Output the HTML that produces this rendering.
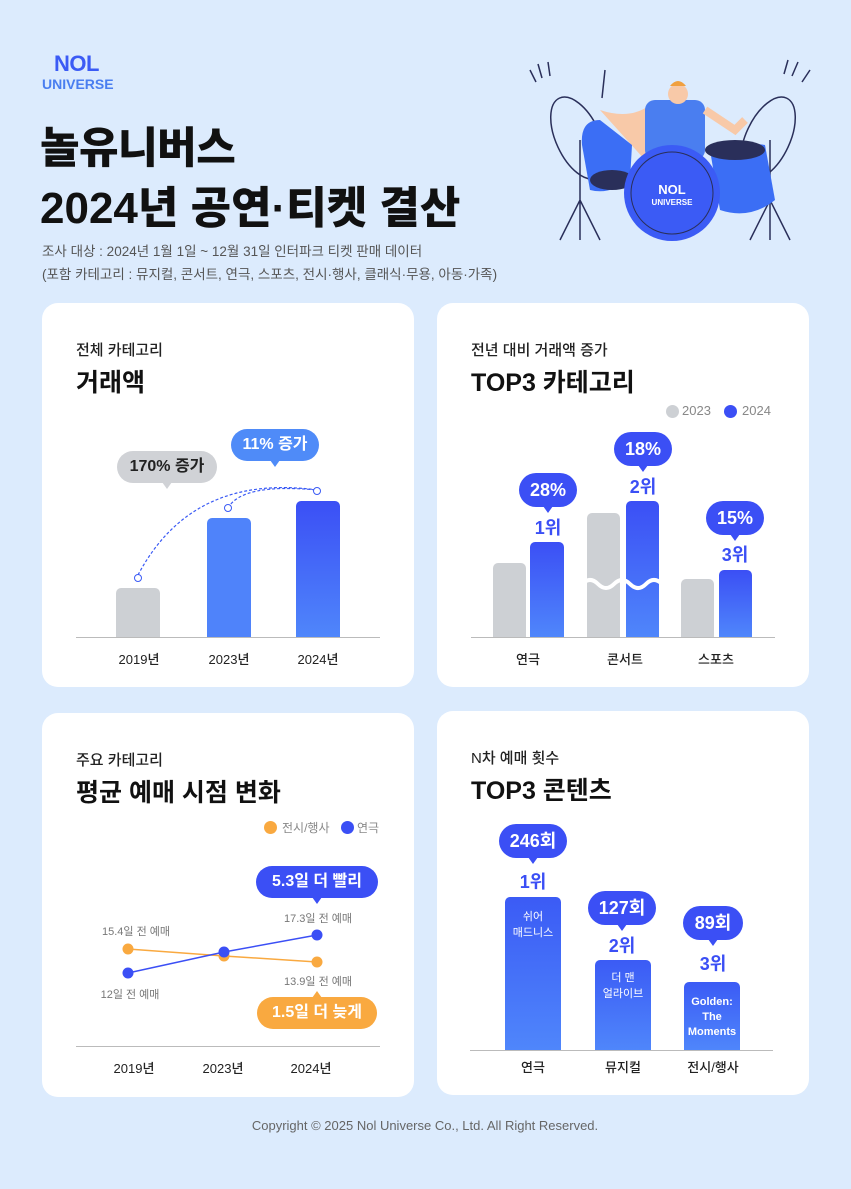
<!DOCTYPE html>
<html><head><meta charset="utf-8"><style>
*{margin:0;padding:0;box-sizing:border-box}
body{width:851px;height:1189px;background:#dcebfd;font-family:"Liberation Sans","Noto Sans CJK KR",sans-serif;position:relative;overflow:hidden;color:#111}
.a{position:absolute}
.card{position:absolute;background:#fff;border-radius:16px;width:372px;height:384px}
.sub{position:absolute;left:34px;top:36px;font-size:15px;font-weight:500;color:#222}
.ttl{position:absolute;left:34px;top:60px;font-size:25px;font-weight:700;color:#111}
.c{position:absolute;transform:translateX(-50%);white-space:nowrap;text-align:center}
.bub{position:absolute;transform:translateX(-50%);height:32px;border-radius:16px;color:#fff;font-weight:700;font-size:16px;line-height:32px;text-align:center;white-space:nowrap}
.bub:after{content:"";position:absolute;left:50%;bottom:-6px;margin-left:-5px;border-left:5px solid transparent;border-right:5px solid transparent;border-top:7px solid var(--c)}
.bub.up:after{bottom:auto;top:-6px;border-top:0;border-bottom:7px solid var(--c)}
.bub.big{height:34px;line-height:34px;border-radius:17px;font-size:18px}
.bar{position:absolute;border-radius:5px 5px 0 0}
.lbl{font-size:13px;color:#222;font-weight:500}
.rk{font-size:18px;font-weight:700;color:#3b4ff5}
</style></head><body>
<div class="a" style="left:54px;top:51px;font-size:22px;font-weight:800;color:#3b5bf5;letter-spacing:-0.5px">NOL</div>
<div class="a" style="left:42px;top:76px;font-size:14px;font-weight:700;color:#4a7ef0">UNIVERSE</div>
<div class="a" style="left:40px;top:114px;font-size:43px;font-weight:800;letter-spacing:-0.5px">놀유니버스</div>
<div class="a" style="left:40px;top:172px;font-size:44px;font-weight:800;letter-spacing:0px">2024년 공연·티켓 결산</div>
<div class="a" style="left:42px;top:240px;font-size:13.5px;color:#555">조사 대상 : 2024년 1월 1일 ~ 12월 31일 인터파크 티켓 판매 데이터</div>
<div class="a" style="left:42px;top:263px;font-size:13.5px;color:#555">(포함 카테고리 : 뮤지컬, 콘서트, 연극, 스포츠, 전시·행사, 클래식·무용, 아동·가족)</div>
<svg class="a" style="left:520px;top:50px" width="300" height="200" viewBox="0 0 300 200">
<g stroke="#2a2f5a" stroke-width="1.5" fill="none">
<path d="M10 20l6 12M18 14l4 14M28 12l2 14M268 10l-4 14M278 12l-6 14M290 20l-8 12"/>
<ellipse cx="58" cy="88" rx="22" ry="44" transform="rotate(-25 58 88)"/>
<ellipse cx="248" cy="88" rx="22" ry="44" transform="rotate(25 248 88)"/>
<path d="M60 90v100M40 190l20-40 20 40M250 90v100M230 190l20-40 20 40M85 20l-3 28"/>
</g>
<path d="M80 60 Q110 70 130 55 L150 60 L155 110 L125 110 Z" fill="#f8c9a8"/>
<rect x="125" y="50" width="60" height="60" rx="10" fill="#4a7ef0"/>
<circle cx="158" cy="44" r="10" fill="#f8c9a8"/><path d="M150 36 q8-10 16 0" fill="#f0a040"/>
<path d="M185 60 l30 20 10-10" stroke="#f8c9a8" stroke-width="8" fill="none"/>
<path d="M80 70 Q60 70 62 95 L70 140 Q90 145 110 130 L112 95 Z" fill="#3b6ef5"/>
<ellipse cx="92" cy="130" rx="22" ry="10" fill="#2a2f5a"/>
<path d="M190 100 Q220 90 245 95 L255 150 Q230 170 200 160 Z" fill="#3b6ef5"/>
<ellipse cx="215" cy="100" rx="30" ry="10" fill="#2a2f5a"/>
<circle cx="152" cy="143" r="48" fill="#3b5bf5"/>
<circle cx="152" cy="143" r="41" fill="none" stroke="#2a2f5a" stroke-width="1"/>
<text x="152" y="144" fill="#fff" font-size="13" font-weight="800" text-anchor="middle" font-family="Liberation Sans">NOL</text>
<text x="152" y="155" fill="#fff" font-size="8" font-weight="700" text-anchor="middle" font-family="Liberation Sans">UNIVERSE</text>
</svg>

<!-- Card 1 -->
<div class="card" style="left:42px;top:303px">
<div class="sub">전체 카테고리</div><div class="ttl">거래액</div>
<svg class="a" style="left:0;top:0" width="372" height="384">
<path d="M96 272 Q150 170 275 187" stroke="#3b5bf5" stroke-width="1.2" stroke-dasharray="3 2" fill="none"/>
<path d="M186 205 Q200 180 275 187" stroke="#3b5bf5" stroke-width="1.2" stroke-dasharray="3 2" fill="none"/>
<circle cx="96" cy="275" r="3.5" fill="#fff" stroke="#3b5bf5"/><circle cx="186" cy="205" r="3.5" fill="#fff" stroke="#3b5bf5"/><circle cx="275" cy="188" r="3.5" fill="#fff" stroke="#3b5bf5"/>
</svg>
<div class="bar" style="left:74px;top:285px;width:44px;height:49px;background:#cdd0d4"></div>
<div class="bar" style="left:165px;top:215px;width:44px;height:119px;background:#4f83fa"></div>
<div class="bar" style="left:254px;top:198px;width:44px;height:136px;background:linear-gradient(#3b4ff5,#4f86fb)"></div>
<div class="a" style="left:34px;top:334px;width:304px;height:1px;background:#bbb"></div>
<div class="c lbl" style="left:97px;top:346px">2019년</div><div class="c lbl" style="left:187px;top:346px">2023년</div><div class="c lbl" style="left:276px;top:346px">2024년</div>
<div class="bub" style="--c:#d0d2d6;background:#d0d2d6;color:#222;left:125px;top:148px;width:100px">170% 증가</div>
<div class="bub" style="--c:#4f8bf8;background:#4f8bf8;left:233px;top:126px;width:88px">11% 증가</div>
</div>

<!-- Card 2 -->
<div class="card" style="left:437px;top:303px">
<div class="sub">전년 대비 거래액 증가</div><div class="ttl">TOP3 카테고리</div>
<div class="a" style="left:229px;top:102px;width:13px;height:13px;border-radius:50%;background:#cdd0d4"></div>
<div class="a" style="left:245px;top:100px;font-size:13px;color:#888">2023</div>
<div class="a" style="left:287px;top:102px;width:13px;height:13px;border-radius:50%;background:#3b4ff5"></div>
<div class="a" style="left:305px;top:100px;font-size:13px;color:#888">2024</div>
<div class="bar" style="left:56px;top:260px;width:33px;height:74px;background:#cdd0d4"></div>
<div class="bar" style="left:93px;top:239px;width:34px;height:95px;background:linear-gradient(#3b4ff5,#4f86fb)"></div>
<div class="bar" style="left:150px;top:210px;width:33px;height:124px;background:#cdd0d4"></div>
<div class="bar" style="left:189px;top:198px;width:33px;height:136px;background:linear-gradient(#3b4ff5,#4f86fb)"></div>
<div class="bar" style="left:244px;top:276px;width:33px;height:58px;background:#cdd0d4"></div>
<div class="bar" style="left:282px;top:267px;width:33px;height:67px;background:linear-gradient(#3b4ff5,#4f86fb)"></div>
<svg class="a" style="left:145px;top:272px" width="82" height="18"><path d="M0 9 q8-8 16 0 t16 0 t16 0 t16 0 t16 0" stroke="#fff" stroke-width="4" fill="none"/></svg>
<div class="a" style="left:34px;top:334px;width:304px;height:1px;background:#bbb"></div>
<div class="c lbl" style="left:91px;top:346px">연극</div><div class="c lbl" style="left:188px;top:346px">콘서트</div><div class="c lbl" style="left:279px;top:346px">스포츠</div>
<div class="bub big" style="--c:#3b4ff5;background:#3b4ff5;left:111px;top:170px;width:58px">28%</div>
<div class="c rk" style="left:111px;top:211px">1위</div>
<div class="bub big" style="--c:#3b4ff5;background:#3b4ff5;left:206px;top:129px;width:58px">18%</div>
<div class="c rk" style="left:206px;top:170px">2위</div>
<div class="bub big" style="--c:#3b4ff5;background:#3b4ff5;left:298px;top:198px;width:58px">15%</div>
<div class="c rk" style="left:298px;top:238px">3위</div>
</div>

<!-- Card 3 -->
<div class="card" style="left:42px;top:713px">
<div class="sub">주요 카테고리</div><div class="ttl">평균 예매 시점 변화</div>
<div class="a" style="left:222px;top:108px;width:13px;height:13px;border-radius:50%;background:#f9a940"></div>
<div class="a" style="left:240px;top:106px;font-size:12px;color:#888">전시/행사</div>
<div class="a" style="left:299px;top:108px;width:13px;height:13px;border-radius:50%;background:#3b4ff5"></div>
<div class="a" style="left:315px;top:106px;font-size:12px;color:#888">연극</div>
<svg class="a" style="left:0;top:0" width="372" height="384">
<polyline points="86,236 182,243 275,249" stroke="#f9a940" stroke-width="1.5" fill="none"/>
<circle cx="86" cy="236" r="5.5" fill="#f9a940"/><circle cx="182" cy="243" r="5.5" fill="#f9a940"/><circle cx="275" cy="249" r="5.5" fill="#f9a940"/>
<polyline points="86,260 182,239 275,222" stroke="#3b4ff5" stroke-width="1.5" fill="none"/>
<circle cx="86" cy="260" r="5.5" fill="#3b4ff5"/><circle cx="182" cy="239" r="5.5" fill="#3b4ff5"/><circle cx="275" cy="222" r="5.5" fill="#3b4ff5"/>
</svg>
<div class="c" style="left:94px;top:210px;font-size:11px;color:#777">15.4일 전 예매</div>
<div class="c" style="left:88px;top:273px;font-size:11px;color:#777">12일 전 예매</div>
<div class="c" style="left:276px;top:197px;font-size:11px;color:#777">17.3일 전 예매</div>
<div class="c" style="left:276px;top:260px;font-size:11px;color:#777">13.9일 전 예매</div>
<div class="bub" style="--c:#3b4ff5;background:#3b4ff5;left:275px;top:153px;width:122px">5.3일 더 빨리</div>
<div class="bub up" style="--c:#f9a940;background:#f9a940;left:275px;top:284px;width:120px">1.5일 더 늦게</div>
<div class="a" style="left:34px;top:333px;width:304px;height:1px;background:#bbb"></div>
<div class="c lbl" style="left:92px;top:345px">2019년</div><div class="c lbl" style="left:181px;top:345px">2023년</div><div class="c lbl" style="left:269px;top:345px">2024년</div>
</div>

<!-- Card 4 -->
<div class="card" style="left:437px;top:711px">
<div class="sub">N차 예매 횟수</div><div class="ttl">TOP3 콘텐츠</div>
<div class="bar" style="left:68px;top:186px;width:56px;height:153px;background:linear-gradient(#3b5bf5,#4f86fb);color:#fff;font-size:11px;text-align:center;padding-top:12px;line-height:16px">쉬어<br>매드니스</div>
<div class="bar" style="left:158px;top:249px;width:56px;height:90px;background:linear-gradient(#3b5bf5,#4f86fb);color:#fff;font-size:11px;text-align:center;padding-top:10px;line-height:16px">더 맨<br>얼라이브</div>
<div class="bar" style="left:247px;top:271px;width:56px;height:68px;background:linear-gradient(#3b5bf5,#4f86fb);color:#fff;font-size:11px;font-weight:700;text-align:center;padding-top:13px;line-height:15px">Golden:<br>The<br>Moments</div>
<div class="a" style="left:33px;top:339px;width:303px;height:1px;background:#bbb"></div>
<div class="c lbl" style="left:96px;top:346px">연극</div><div class="c lbl" style="left:186px;top:346px">뮤지컬</div><div class="c lbl" style="left:276px;top:346px">전시/행사</div>
<div class="bub big" style="--c:#3b4ff5;background:#3b4ff5;left:96px;top:113px;width:68px">246회</div>
<div class="c rk" style="left:96px;top:157px">1위</div>
<div class="bub big" style="--c:#3b4ff5;background:#3b4ff5;left:185px;top:180px;width:68px">127회</div>
<div class="c rk" style="left:185px;top:221px">2위</div>
<div class="bub big" style="--c:#3b4ff5;background:#3b4ff5;left:276px;top:195px;width:60px">89회</div>
<div class="c rk" style="left:276px;top:239px">3위</div>
</div>

<div class="c" style="left:425px;top:1118px;font-size:13px;color:#666">Copyright © 2025 Nol Universe Co., Ltd. All Right Reserved.</div>
</body></html>
